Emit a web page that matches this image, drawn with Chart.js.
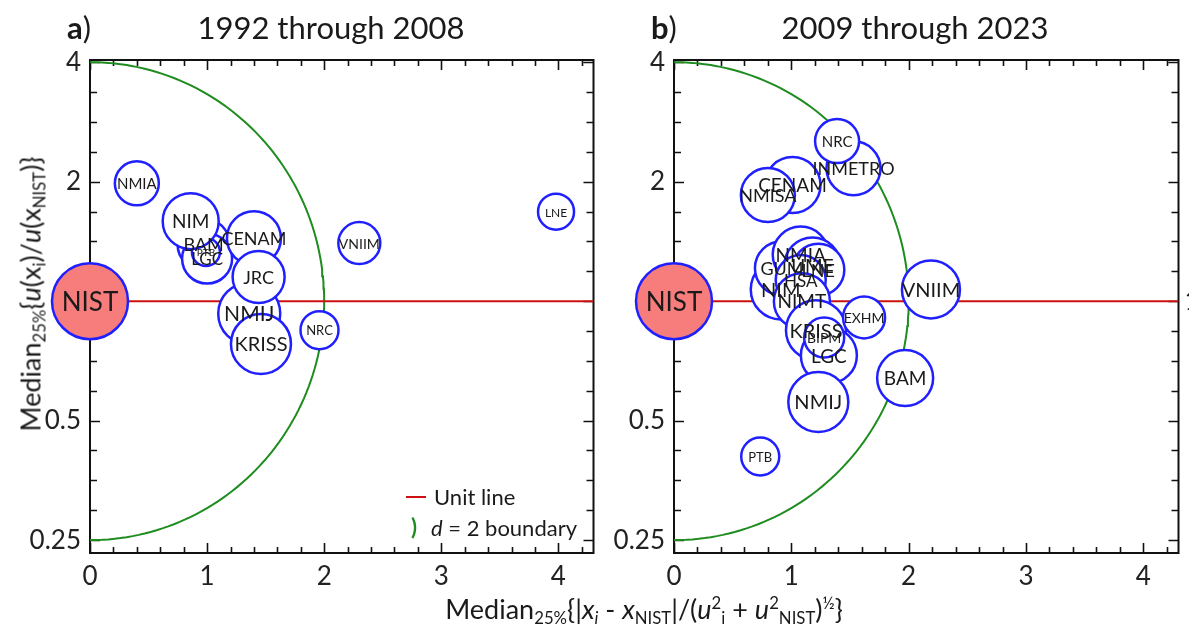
<!DOCTYPE html>
<html>
<head>
<meta charset="utf-8">
<script src="https://cdn.jsdelivr.net/npm/chart.js@4.4.1/dist/chart.umd.min.js"></script>
<style>
  body { margin: 0; width: 1189px; height: 627px; background: #fff; position: relative; overflow: hidden; font-family: Lato, sans-serif; color: #1a1a1a; }
  canvas { position: absolute; top: 0; }
  #ca { left: 0; }
  #cb { left: 600px; }
  .txt { position: absolute; white-space: nowrap; line-height: 1; }
  .ttl { top: 12px; font-size: 31px; transform: translateX(-50%); }
  .tag { top: 12px; font-size: 31px; }
  sub, sup { font-size: 0.62em; line-height: 0; }
  sub { vertical-align: -0.3em; }
  sup { vertical-align: 0.55em; }
  .axt { font-size: 27px; }
  .leg { font-size: 22px; }
</style>
</head>
<body>
<canvas id="ca" width="634" height="627"></canvas>
<canvas id="cb" width="619" height="627"></canvas>

<div class="txt tag" style="left:67px"><b>a</b>)</div>
<div class="txt ttl" style="left:331px">1992 through 2008</div>
<div class="txt tag" style="left:651px"><b>b</b>)</div>
<div class="txt ttl" style="left:915px">2009 through 2023</div>

<div class="txt axt" style="left:30px;top:294px;transform:translate(-50%,-50%) rotate(-90deg)">Median<sub>25%</sub>{<i>u</i>(x<sub>i</sub>)/<i>u</i>(x<sub>NIST</sub>)}</div>
<div class="txt axt" style="left:644px;top:608px;transform:translate(-50%,-50%)">Median<sub>25%</sub>{|<i>x<sub>i</sub></i> - <i>x</i><sub>NIST</sub>|/(<i>u</i><sup>2</sup><sub>i</sub> + <i>u</i><sup>2</sup><sub>NIST</sub>)<sup>½</sup>}</div>

<div class="txt leg" style="left:406px;top:496px;width:20px;height:2px;background:#cc1111"></div>
<div class="txt leg" style="left:434px;top:486px">Unit line</div>
<div class="txt leg" style="left:411px;top:516px;color:#1e8c1e;font-weight:bold">)</div>
<div class="txt leg" style="left:431px;top:517px"><i>d</i> = 2 boundary</div>

<script>
// ---------------- data ----------------
// axes
const xTicks = [0, 1, 2, 3, 4];
const yTicks = [0.25, 0.5, 1, 2, 4];
const xMin = 0, xMax = 4.3;
const yMin = 0.232, yMax = 4.05;
const unitY = 1;
const dBoundary = 2;   // boundary where sqrt(x^2 + log2(y)^2) = d

// reference lab
const nistName = 'NIST';
const nistX = 0, nistY = 1, nistR = 38;

// a) 1992 through 2008
const namesA = ['BAM', 'LGC', 'PTB', 'NIM', 'NMIA', 'CENAM', 'NMIJ', 'JRC', 'KRISS', 'NRC', 'VNIIM', 'LNE'];
const xA     = [0.97, 1.00, 0.99, 0.86, 0.40, 1.40, 1.36, 1.44, 1.46, 1.96, 2.30, 3.98];
const yA     = [1.39, 1.28, 1.33, 1.59, 1.98, 1.44, 0.93, 1.15, 0.78, 0.845, 1.40, 1.68];
const rA     = [26, 25, 14, 28, 22, 27, 31, 26, 30, 19, 21, 18];

// b) 2009 through 2023
const namesB = ['NIM', 'GUM', 'NMIA', 'UME', 'LNE', 'HSA', 'NIMT', 'KRISS', 'LGC', 'BIPM', 'EXHM', 'NMIJ', 'BAM', 'VNIIM', 'PTB', 'CENAM', 'NMISA', 'INMETRO', 'NRC'];
const xB     = [0.91, 0.92, 1.08, 1.18, 1.23, 1.08, 1.09, 1.21, 1.32, 1.28, 1.62, 1.23, 1.97, 2.19, 0.735, 1.01, 0.80, 1.53, 1.39];
const yB     = [1.07, 1.21, 1.31, 1.23, 1.20, 1.13, 1.00, 0.845, 0.73, 0.81, 0.91, 0.557, 0.64, 1.07, 0.406, 1.96, 1.85, 2.16, 2.53];
const rB     = [30, 27, 28, 28, 26, 25, 28, 30, 28, 20, 21, 30, 28, 29, 19, 28, 27, 27, 22];

// ---------------- drawing ----------------
Chart.defaults.font.family = 'Lato';

// d-boundary curve (half ellipse in x / log2(y) space)
let boundary = [];
for (let i = 0; i <= 120; i++) {
    let t = -Math.PI / 2 + Math.PI * i / 120;
    boundary.push({ x: dBoundary * Math.cos(t), y: Math.pow(2, dBoundary * Math.sin(t)) });
}

// frame with inward ticks + bubble labels
const framePlugin = {
    id: 'frame',
    beforeDatasetsDraw(chart) {
        const { ctx, chartArea: a } = chart;
        const xs = chart.scales.x, ys = chart.scales.y;
        ctx.save();
        ctx.strokeStyle = '#111';
        ctx.lineWidth = 2;
        ctx.strokeRect(a.left, a.top, a.right - a.left, a.bottom - a.top);
        ctx.lineWidth = 1.6;
        ctx.beginPath();
        for (let k = 0; k * 0.2 <= xMax + 1e-9; k++) {
            let px = Math.round(xs.getPixelForValue(k * 0.2)) + 0.5;
            let len = (k % 5 === 0) ? 10 : 6;
            ctx.moveTo(px, a.bottom); ctx.lineTo(px, a.bottom - len);
            ctx.moveTo(px, a.top); ctx.lineTo(px, a.top + len);
        }
        for (let k = -9; k <= 9; k++) {
            let py = Math.round(ys.getPixelForValue(Math.pow(2, k / 4))) + 0.5;
            if (py < a.top + 1 || py > a.bottom - 1) continue;
            let len = (k % 4 === 0) ? 10 : 7;
            ctx.moveTo(a.left, py); ctx.lineTo(a.left + len, py);
            ctx.moveTo(a.right, py); ctx.lineTo(a.right - len, py);
        }
        ctx.stroke();
        ctx.restore();
    },
    afterDatasetsDraw(chart, args, opts) {
        const ctx = chart.ctx;
        ctx.save();
        ctx.fillStyle = '#1a1a1a';
        ctx.textAlign = 'center';
        ctx.textBaseline = 'middle';
        chart.data.datasets.forEach((ds, i) => {
            if (!ds.pointLabels) return;
            chart.getDatasetMeta(i).data.forEach((el, j) => {
                ctx.font = Math.round(ds.data[j].r * 0.68) + 'px Lato';
                ctx.fillText(ds.pointLabels[j], el.x, el.y + 1);
            });
        });
        if (opts.rightOne) {
            ctx.font = '26px Lato';
            ctx.textAlign = 'left';
            ctx.fillText('1', chart.chartArea.right + 6, chart.scales.y.getPixelForValue(unitY));
        }
        ctx.restore();
    }
};

function makePanel(id, names, xs, ys, rs, leftW, rightOne) {
    let pts = xs.map((x, i) => ({ x: x, y: ys[i], r: rs[i] }));
    return new Chart(document.getElementById(id), {
        type: 'bubble',
        data: {
            datasets: [
                {
                    data: [{ x: nistX, y: nistY, r: nistR }],
                    pointLabels: [nistName],
                    backgroundColor: '#f77c7c',
                    borderColor: '#1f1fff',
                    borderWidth: 2.5,
                    clip: false,
                    order: 0
                },
                {
                    data: pts,
                    pointLabels: names,
                    backgroundColor: '#ffffff',
                    borderColor: '#1f1fff',
                    borderWidth: 2.5,
                    clip: false,
                    order: 1
                },
                {
                    type: 'line',
                    data: [{ x: xMin, y: unitY }, { x: xMax, y: unitY }],
                    borderColor: '#cc1111',
                    borderWidth: 2,
                    pointRadius: 0,
                    order: 2
                },
                {
                    type: 'line',
                    data: boundary,
                    borderColor: '#1e8c1e',
                    borderWidth: 2,
                    pointRadius: 0,
                    tension: 0,
                    clip: false,
                    order: 3
                }
            ]
        },
        options: {
            responsive: false,
            animation: false,
            events: [],
            // the right side is set by the bubble overflow (largest radius + border)
            layout: { padding: { left: 0, top: 60, right: 0, bottom: 0 } },
            plugins: {
                legend: { display: false },
                tooltip: { enabled: false },
                frame: { rightOne: rightOne }
            },
            scales: {
                x: {
                    type: 'linear', min: xMin, max: xMax,
                    afterBuildTicks: s => { s.ticks = xTicks.map(v => ({ value: v })); },
                    afterFit: s => { s.height = 74; },
                    grid: { display: false, drawTicks: false },
                    border: { display: false },
                    ticks: { font: { size: 26 }, color: '#222', padding: 8, maxRotation: 0, autoSkip: false, callback: v => String(v) }
                },
                y: {
                    type: 'logarithmic', min: yMin, max: yMax,
                    afterBuildTicks: s => { s.ticks = yTicks.map(v => ({ value: v })); },
                    afterFit: s => { s.width = leftW; },
                    grid: { display: false, drawTicks: false },
                    border: { display: false },
                    ticks: { font: { size: 26 }, color: '#222', padding: 9, autoSkip: false, callback: v => String(v) }
                }
            }
        },
        plugins: [framePlugin]
    });
}

makePanel('ca', namesA, xA, yA, rA, 90, false);
makePanel('cb', namesB, xB, yB, rB, 74, true);
</script>
</body>
</html>
